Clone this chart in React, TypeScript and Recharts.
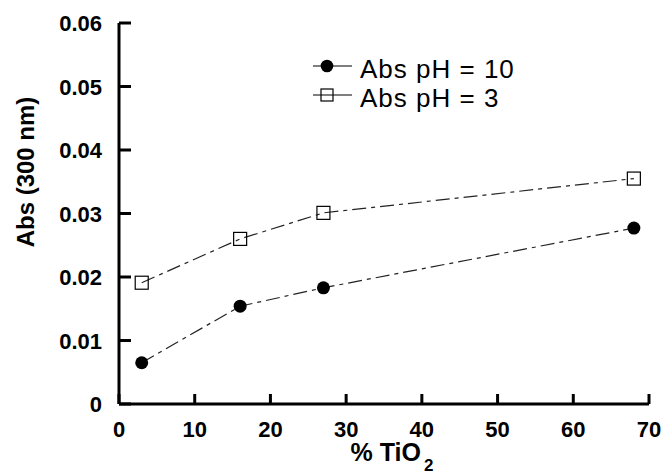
import { LineChart, Line, XAxis, YAxis, Legend } from "recharts";

const tio2 = [3, 16, 27, 68];
const absPh10 = [0.0065, 0.0154, 0.0183, 0.0277];
const absPh3 = [0.0191, 0.026, 0.0301, 0.0355];
const xTicks = [0, 10, 20, 30, 40, 50, 60, 70];
const yTicks = [0, 0.01, 0.02, 0.03, 0.04, 0.05, 0.06];
const seriesNames = ["Abs pH = 10", "Abs pH = 3"];

const data = tio2.map((x, i) => ({ x, ph10: absPh10[i], ph3: absPh3[i] }));

const FONT = "'Liberation Sans', Arial, sans-serif";
const INK = "#000";
const LINE_INK = "#222";
const DASH = "14 5 4 5";

const axisLine = { stroke: INK, strokeWidth: 3 };
const tickLine = { stroke: INK, strokeWidth: 3 };

// tick labels drawn by hand so the font size sticks
const XTick = (props: { x?: number; y?: number; payload?: { value: number } }) => {
  const { x = 0, y = 0, payload } = props;
  return (
    <text x={x} y={y + 17} textAnchor="middle" fontFamily={FONT} fontWeight={700} fontSize={22} fill={INK}>
      {payload?.value}
    </text>
  );
};

const YTick = (props: { x?: number; y?: number; payload?: { value: number } }) => {
  const { x = 0, y = 0, payload } = props;
  return (
    <text x={x} y={y + 8} textAnchor="end" fontFamily={FONT} fontWeight={700} fontSize={22} fill={INK}>
      {payload?.value}
    </text>
  );
};

const SquareDot = (props: { cx?: number; cy?: number; index?: number }) => {
  const { cx, cy, index } = props;
  if (cx == null || cy == null) return null;
  return (
    <rect key={index} x={cx - 6.5} y={cy - 6.5} width={13} height={13} fill="none" stroke={INK} strokeWidth={1.2} />
  );
};

const LegendBox = () => (
  <div style={{ fontFamily: FONT, fontSize: 26, letterSpacing: 1, color: INK, lineHeight: "29px" }}>
    {seriesNames.map((name, i) => (
      <div key={name} style={{ display: "flex", alignItems: "flex-start", height: 29 }}>
        <svg width={47} height={29} style={{ display: "block", flex: "none" }}>
          <line x1={0} x2={39} y1={11} y2={11} stroke={INK} strokeWidth={1.2} />
          {i === 0 ? (
            <circle cx={14} cy={11} r={6.3} fill={INK} />
          ) : (
            <rect x={8} y={5} width={12} height={12} fill="none" stroke={INK} strokeWidth={1.2} />
          )}
        </svg>
        <span style={{ whiteSpace: "nowrap" }}>{name}</span>
      </div>
    ))}
  </div>
);

export default function App() {
  return (
    <div style={{ position: "absolute", left: 0, top: 0, width: 663, height: 474, background: "#fff" }}>
      <LineChart width={663} height={474} data={data} margin={{ top: 23, right: 14, bottom: 0, left: 0 }}>
        <XAxis
          xAxisId="b"
          type="number"
          dataKey="x"
          domain={[0, 70]}
          ticks={xTicks}
          height={70}
          axisLine={axisLine}
          tickLine={tickLine}
          tickSize={-10}
          tickMargin={26}
          tick={<XTick />}
          interval={0}
        />
        <XAxis
          xAxisId="t"
          orientation="top"
          type="number"
          dataKey="x"
          domain={[0, 70]}
          ticks={xTicks}
          height={0}
          axisLine={axisLine}
          tickLine={tickLine}
          tickSize={-10}
          tickFormatter={() => ""}
        />
        <YAxis
          yAxisId="l"
          type="number"
          domain={[0, 0.06]}
          ticks={yTicks}
          width={119}
          axisLine={axisLine}
          tickLine={tickLine}
          tickSize={-12}
          tickMargin={29}
          tick={<YTick />}
          interval={0}
        />
        <YAxis
          yAxisId="r"
          orientation="right"
          type="number"
          domain={[0, 0.06]}
          ticks={yTicks}
          width={0}
          axisLine={axisLine}
          tickLine={tickLine}
          tickSize={-12}
          tickFormatter={() => ""}
        />
        <Legend
          layout="vertical"
          align="center"
          verticalAlign="middle"
          content={<LegendBox />}
          wrapperStyle={{ position: "absolute", left: 313, top: 55, width: "auto" }}
        />
        <Line
          xAxisId="b"
          yAxisId="l"
          dataKey="ph10"
          name={seriesNames[0]}
          stroke={LINE_INK}
          strokeWidth={1.2}
          strokeDasharray={DASH}
          dot={{ r: 6.5, fill: INK, stroke: INK, strokeWidth: 0, strokeDasharray: "" }}
          isAnimationActive={false}
        />
        <Line
          xAxisId="b"
          yAxisId="l"
          dataKey="ph3"
          name={seriesNames[1]}
          stroke={LINE_INK}
          strokeWidth={1.2}
          strokeDasharray={DASH}
          dot={<SquareDot />}
          isAnimationActive={false}
        />
      </LineChart>
      <div
        style={{
          position: "absolute",
          left: 26,
          top: 172,
          transform: "translate(-50%, -50%) rotate(-90deg)",
          fontFamily: FONT,
          fontWeight: 700,
          fontSize: 24,
          whiteSpace: "nowrap",
          lineHeight: 1,
        }}
      >
        Abs (300 nm)
      </div>
      <div
        style={{
          position: "absolute",
          left: 392,
          top: 440,
          transform: "translateX(-50%)",
          fontFamily: FONT,
          fontWeight: 700,
          fontSize: 25,
          whiteSpace: "nowrap",
          lineHeight: 1,
        }}
      >
        % TiO<sub style={{ fontSize: 17, verticalAlign: "-10px", marginLeft: 3 }}>2</sub>
      </div>
    </div>
  );
}
